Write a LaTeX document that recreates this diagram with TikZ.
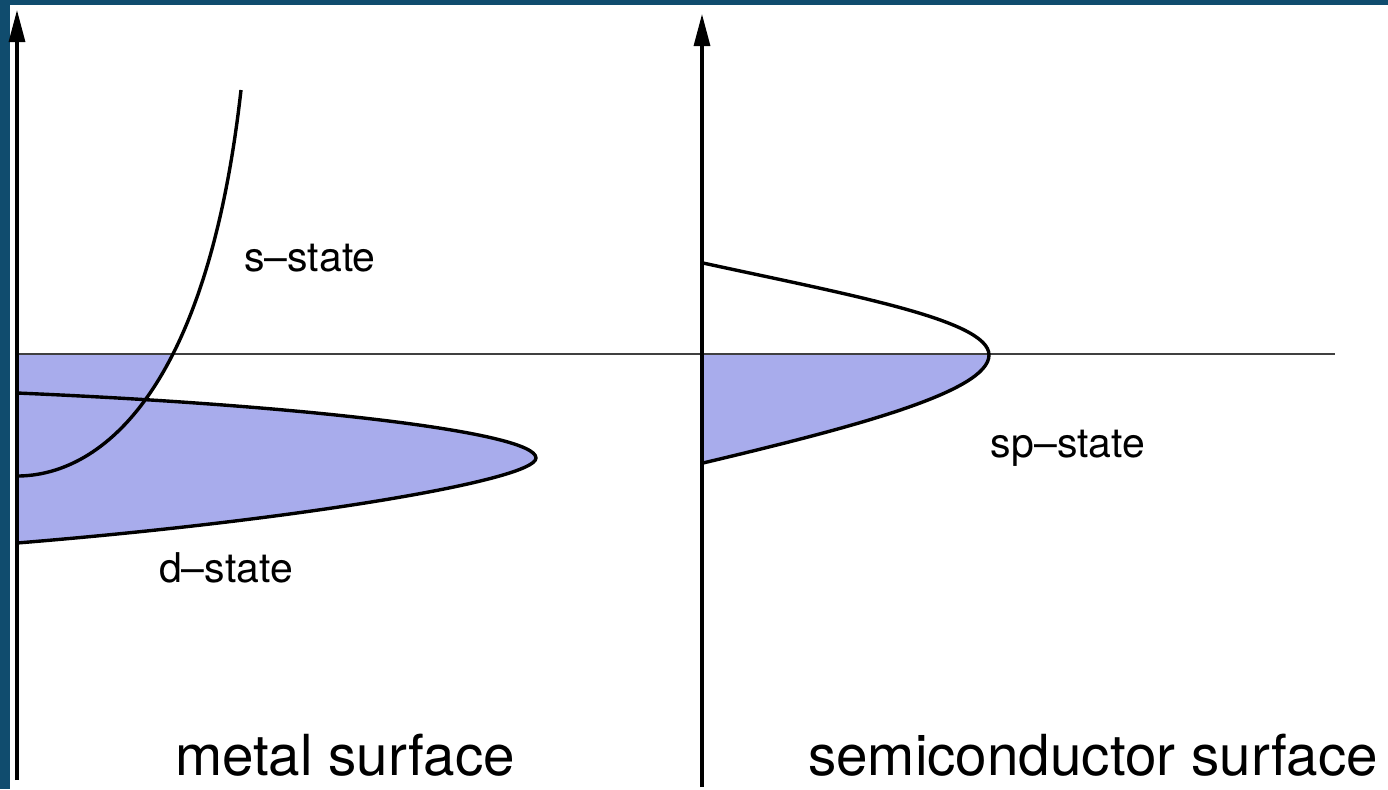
\documentclass[tikz,border=0pt]{standalone}
\usepackage{fontspec}
\setmainfont{TeX Gyre Heros}
\usepackage{xcolor}
\usepackage{tikz}
\usetikzlibrary{arrows.meta}
\definecolor{frameblue}{RGB}{16,76,110}
\definecolor{occupied}{RGB}{168,172,236}

\begin{document}
\begin{tikzpicture}[x=0.5pt, y=-0.5pt]
    % Define styles
    \tikzstyle{axis} = [line width=1.6pt, -{Triangle[length=16pt, width=8pt]}]
    \tikzstyle{dos} = [line width=1.7pt, line join=round]
    \tikzstyle{fermi} = [line width=1pt, black!75]
    \tikzstyle{statelabel} = [font=\fontsize{20.5}{24}\selectfont, anchor=base, inner sep=0pt]
    \tikzstyle{caption} = [font=\fontsize{28.3}{34}\selectfont, anchor=base, inner sep=0pt]

    % Frame
    \useasboundingbox (0,0) rectangle (1388,789);
    \fill[frameblue] (0,0) rectangle (1388,789);
    \fill[white] (10,5) rectangle (1388,789);

    % Occupied states, metal
    \begin{scope}
        \clip (0,354) rectangle (700,789);
        \fill[occupied] (17,476) .. controls (95,476) and (206,402) .. (241,90) -- (17,90) -- cycle;
    \end{scope}
    \fill[occupied] (17,393) .. controls (300,405) and (536,432) .. (536,458)
        .. controls (536,480) and (300,520) .. (17,543) -- cycle;

    % Occupied states, semiconductor
    \fill[occupied] (703,355) -- (989,355) .. controls (989,392) and (850,428) .. (703,463) -- cycle;

    % Fermi level
    \draw[fermi] (17,354) -- (1335,354);

    % d-state
    \draw[dos] (17,393) .. controls (300,405) and (536,432) .. (536,458)
        .. controls (536,480) and (300,520) .. (17,543);

    % s-state
    \draw[dos] (17,476) .. controls (95,476) and (206,402) .. (241,90);

    % sp-state
    \draw[dos] (703,263) .. controls (850,295) and (989,320) .. (989,355)
        .. controls (989,392) and (850,428) .. (703,463);

    % Axes
    \draw[axis] (17,780) -- (17,10);
    \draw[axis] (702,787) -- (702,14);

    % Labels
    \node[statelabel] (slabel) at (310,271) {s--state};
    \node[statelabel] (dlabel) at (226,582) {d--state};
    \node[statelabel] (splabel) at (1068,457) {sp--state};
    \node[caption] (metal) at (345,775) {metal surface};
    \node[caption] (semi) at (1093,775) {semiconductor surface};

\end{tikzpicture}
\end{document}
